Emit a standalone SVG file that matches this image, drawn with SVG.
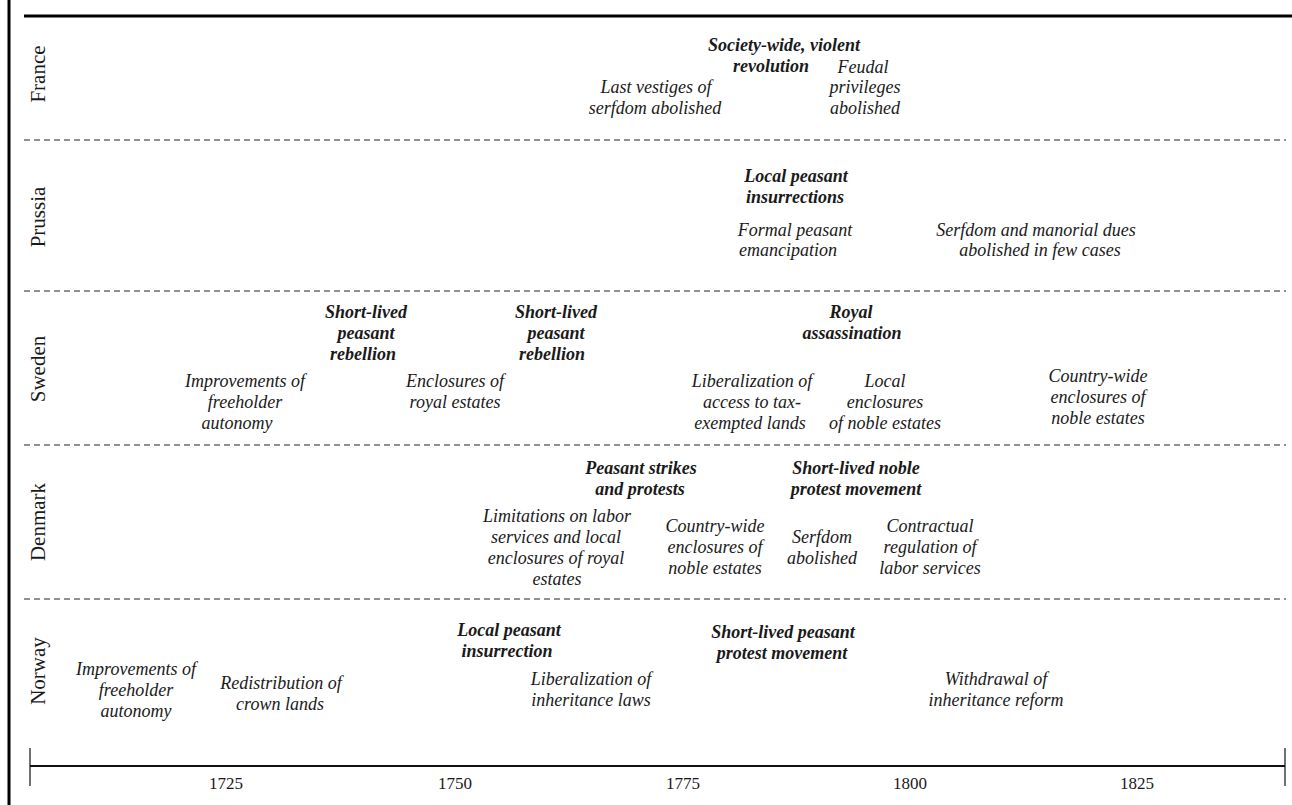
<svg xmlns="http://www.w3.org/2000/svg" width="1292" height="805" viewBox="0 0 1292 805">
<style>
  text { font-family: "Liberation Serif", "Times New Roman", serif; fill: #1a1a1a; }
  .ev { font-size: 18px; font-style: italic; text-anchor: middle; }
  .bd { font-size: 18px; font-style: italic; font-weight: bold; text-anchor: middle; }
  .cty { font-size: 21px; text-anchor: middle; }
  .yr { font-size: 17px; text-anchor: middle; }
  .sep { stroke: #222; stroke-width: 1.2; stroke-dasharray: 6 4; fill: none; }
  .frame { stroke: #000; stroke-width: 3; fill: none; }
  .axis { stroke: #111; stroke-width: 2; fill: none; }
  .tick { stroke: #111; stroke-width: 1.2; fill: none; }
</style>
<rect x="0" y="0" width="1292" height="805" fill="#fff"/>

<g id="frame">
  <line class="frame" x1="9" y1="0" x2="9" y2="805"/>
  <line class="frame" x1="24" y1="16" x2="1292" y2="16"/>
</g>

<g id="connectors">
  <line class="sep" x1="24" y1="140" x2="1286" y2="140"/>
  <line class="sep" x1="24" y1="291" x2="1286" y2="291"/>
  <line class="sep" x1="24" y1="445" x2="1286" y2="445"/>
  <line class="sep" x1="24" y1="599" x2="1286" y2="599"/>
  <line class="axis" x1="30" y1="766" x2="1285" y2="766"/>
  <line class="tick" x1="30" y1="748" x2="30" y2="786"/>
  <line class="tick" x1="1285" y1="748" x2="1285" y2="786"/>
</g>

<g id="countries">
  <text class="cty" transform="translate(45,74) rotate(-90)">France</text>
  <text class="cty" transform="translate(45,217) rotate(-90)">Prussia</text>
  <text class="cty" transform="translate(45,369) rotate(-90)">Sweden</text>
  <text class="cty" transform="translate(45,522) rotate(-90)">Denmark</text>
  <text class="cty" transform="translate(45,671) rotate(-90)">Norway</text>
</g>

<g id="years">
  <text class="yr" x="226" y="789">1725</text>
  <text class="yr" x="455" y="789">1750</text>
  <text class="yr" x="683" y="789">1775</text>
  <text class="yr" x="910" y="789">1800</text>
  <text class="yr" x="1137" y="789">1825</text>
</g>

<g id="france-revolution"><text class="bd" x="784" y="51">Society-wide, violent</text><text class="bd" x="771" y="72">revolution</text></g>
<g id="france-serfdom"><text class="ev" x="656" y="93">Last vestiges of</text><text class="ev" x="655" y="114">serfdom abolished</text></g>
<g id="france-feudal"><text class="ev" x="863" y="73">Feudal</text><text class="ev" x="865" y="93">privileges</text><text class="ev" x="865" y="114">abolished</text></g>

<g id="prussia-insurrections"><text class="bd" x="796" y="182">Local peasant</text><text class="bd" x="795" y="203">insurrections</text></g>
<g id="prussia-emancipation"><text class="ev" x="795" y="236">Formal peasant</text><text class="ev" x="788" y="256">emancipation</text></g>
<g id="prussia-serfdom"><text class="ev" x="1036" y="236">Serfdom and manorial dues</text><text class="ev" x="1040" y="256">abolished in few cases</text></g>

<g id="sweden-rebellion-1"><text class="bd" x="366" y="318">Short-lived</text><text class="bd" x="366" y="339">peasant</text><text class="bd" x="363" y="360">rebellion</text></g>
<g id="sweden-rebellion-2"><text class="bd" x="556" y="318">Short-lived</text><text class="bd" x="556" y="339">peasant</text><text class="bd" x="552" y="360">rebellion</text></g>
<g id="sweden-assassination"><text class="bd" x="851" y="318">Royal</text><text class="bd" x="852" y="339">assassination</text></g>
<g id="sweden-freeholder"><text class="ev" x="245" y="387">Improvements of</text><text class="ev" x="245" y="408">freeholder</text><text class="ev" x="237" y="429">autonomy</text></g>
<g id="sweden-royal-enclosures"><text class="ev" x="455" y="387">Enclosures of</text><text class="ev" x="455" y="408">royal estates</text></g>
<g id="sweden-liberalization"><text class="ev" x="752" y="387">Liberalization of</text><text class="ev" x="752" y="408">access to tax-</text><text class="ev" x="750" y="429">exempted lands</text></g>
<g id="sweden-local-enclosures"><text class="ev" x="885" y="387">Local</text><text class="ev" x="885" y="408">enclosures</text><text class="ev" x="885" y="429">of noble estates</text></g>
<g id="sweden-countrywide"><text class="ev" x="1098" y="382">Country-wide</text><text class="ev" x="1098" y="403">enclosures of</text><text class="ev" x="1098" y="424">noble estates</text></g>

<g id="denmark-strikes"><text class="bd" x="641" y="474">Peasant strikes</text><text class="bd" x="640" y="495">and protests</text></g>
<g id="denmark-noble-protest"><text class="bd" x="856" y="474">Short-lived noble</text><text class="bd" x="856" y="495">protest movement</text></g>
<g id="denmark-limitations"><text class="ev" x="557" y="522">Limitations on labor</text><text class="ev" x="556" y="543">services and local</text><text class="ev" x="556" y="564">enclosures of royal</text><text class="ev" x="557" y="585">estates</text></g>
<g id="denmark-countrywide"><text class="ev" x="715" y="532">Country-wide</text><text class="ev" x="715" y="553">enclosures of</text><text class="ev" x="715" y="574">noble estates</text></g>
<g id="denmark-serfdom"><text class="ev" x="822" y="543">Serfdom</text><text class="ev" x="822" y="564">abolished</text></g>
<g id="denmark-contractual"><text class="ev" x="930" y="532">Contractual</text><text class="ev" x="930" y="553">regulation of</text><text class="ev" x="930" y="574">labor services</text></g>

<g id="norway-insurrection"><text class="bd" x="509" y="636">Local peasant</text><text class="bd" x="507" y="657">insurrection</text></g>
<g id="norway-protest"><text class="bd" x="783" y="638">Short-lived peasant</text><text class="bd" x="782" y="659">protest movement</text></g>
<g id="norway-freeholder"><text class="ev" x="136" y="675">Improvements of</text><text class="ev" x="136" y="696">freeholder</text><text class="ev" x="136" y="717">autonomy</text></g>
<g id="norway-crown-lands"><text class="ev" x="281" y="689">Redistribution of</text><text class="ev" x="280" y="710">crown lands</text></g>
<g id="norway-inheritance"><text class="ev" x="591" y="685">Liberalization of</text><text class="ev" x="591" y="706">inheritance laws</text></g>
<g id="norway-withdrawal"><text class="ev" x="996" y="685">Withdrawal of</text><text class="ev" x="996" y="706">inheritance reform</text></g>
</svg>
